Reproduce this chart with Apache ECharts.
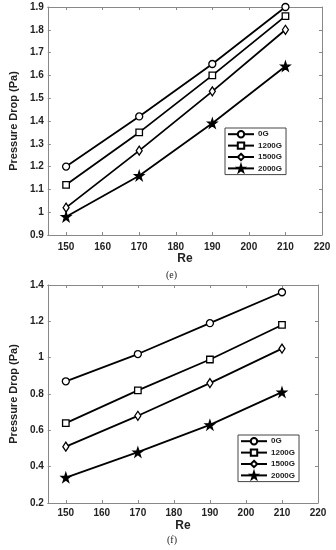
<!DOCTYPE html>
<html>
<head>
<meta charset="utf-8">
<script src="https://cdn.jsdelivr.net/npm/echarts@6/dist/echarts.min.js"></script>
<style>html,body{margin:0;padding:0;background:#fff}#c{width:336px;height:550px}</style>
</head>
<body>
<div id="c"></div>
<script>
// Data
var reValues = [150, 170, 190, 210];
var seriesNames = ['0G', '1200G', '1500G', '2000G'];
var xTickValues = [150, 160, 170, 180, 190, 200, 210, 220];
// Panel (e)
var e0G    = [1.20, 1.42, 1.65, 1.90];
var e1200G = [1.12, 1.35, 1.60, 1.86];
var e1500G = [1.02, 1.27, 1.53, 1.80];
var e2000G = [0.98, 1.16, 1.39, 1.64];
// Panel (f)
var f0G    = [0.87, 1.02, 1.19, 1.36];
var f1200G = [0.64, 0.82, 0.99, 1.18];
var f1500G = [0.51, 0.68, 0.86, 1.05];
var f2000G = [0.34, 0.48, 0.63, 0.81];

var starPath = 'path://M50,0 L61.8,36.2 L100,36.2 L69.1,58.6 L80.9,95 L50,72.6 L19.1,95 L30.9,58.6 L0,36.2 L38.2,36.2 Z';
var markers = [
  {symbol: 'circle', size: 7, fill: '#fff'},
  {symbol: 'rect', size: 6.5, fill: '#fff'},
  {symbol: 'diamond', size: [6, 9], fill: '#fff'},
  {symbol: starPath, size: 9, fill: '#000'}
];

var axisColor = '#888';
var font = 'Liberation Sans, Arial, sans-serif';

function xAxes(gridIndex, nameGap, labelMargin) {
  return [{
    type: 'value', gridIndex: gridIndex, min: 145, max: 220, position: 'bottom',
    name: 'Re', nameLocation: 'middle', nameGap: nameGap,
    nameTextStyle: {fontFamily: font, fontWeight: 'bold', fontSize: 12, color: '#222'},
    axisLine: {show: true, lineStyle: {color: axisColor, width: 1}},
    axisTick: {show: true, inside: true, length: 3, lineStyle: {color: axisColor}, customValues: xTickValues},
    axisLabel: {fontFamily: font, fontWeight: 'bold', fontSize: 10, color: '#222', margin: labelMargin,
      customValues: xTickValues},
    splitLine: {show: false}
  }, {
    type: 'value', gridIndex: gridIndex, min: 145, max: 220, position: 'top',
    axisLine: {show: true, lineStyle: {color: axisColor, width: 1}},
    axisTick: {show: true, inside: true, length: 3, lineStyle: {color: axisColor}, customValues: xTickValues},
    axisLabel: {show: false}, splitLine: {show: false}
  }];
}
function yAxes(gridIndex, min, max, interval, nameGap) {
  return [{
    type: 'value', gridIndex: gridIndex, min: min, max: max, interval: interval, position: 'left',
    name: 'Pressure Drop (Pa)', nameLocation: 'middle', nameGap: nameGap, nameRotate: 90,
    nameTextStyle: {fontFamily: font, fontWeight: 'bold', fontSize: 11, color: '#222'},
    axisLine: {show: true, lineStyle: {color: axisColor, width: 1}},
    axisTick: {show: true, inside: true, length: 3, lineStyle: {color: axisColor}},
    axisLabel: {fontFamily: font, fontWeight: 'bold', fontSize: 10, color: '#222', margin: 4},
    splitLine: {show: false}
  }, {
    type: 'value', gridIndex: gridIndex, min: min, max: max, interval: interval, position: 'right',
    axisLine: {show: true, lineStyle: {color: axisColor, width: 1}},
    axisTick: {show: true, inside: true, length: 3, lineStyle: {color: axisColor}},
    axisLabel: {show: false}, splitLine: {show: false}
  }];
}

function makeSeries(values, i, axisIdx) {
  var m = markers[i];
  return {
    type: 'line', name: seriesNames[i], xAxisIndex: axisIdx, yAxisIndex: axisIdx,
    data: reValues.map(function (x, k) { return [x, values[k]]; }),
    symbol: m.symbol, symbolSize: m.size, showAllSymbol: true,
    lineStyle: {color: '#000', width: 1.8},
    itemStyle: {color: m.fill, borderColor: '#000', borderWidth: 1.3},
    animation: false, z: 3
  };
}

var eSets = [e0G, e1200G, e1500G, e2000G];
var fSets = [f0G, f1200G, f1500G, f2000G];
var series = [];
eSets.forEach(function (v, i) { series.push(makeSeries(v, i, 0)); });
fSets.forEach(function (v, i) { series.push(makeSeries(v, i, 2)); });

function legend(left, top) {
  return {
    data: seriesNames, orient: 'vertical', left: left, top: top,
    backgroundColor: '#fff', borderColor: '#444', borderWidth: 1, borderRadius: 0,
    padding: [2, 4, 2, 2], itemGap: 3, itemWidth: 26, itemHeight: 8,
    textStyle: {fontFamily: font, fontWeight: 'bold', fontSize: 8, color: '#222', padding: [0, 0, 0, -1]},
    selectedMode: false
  };
}

var option = {
  backgroundColor: '#fff',
  animation: false,
  grid: [
    {left: 34, top: 7, width: 288, height: 228, containLabel: false},
    {left: 39, top: 285, width: 279, height: 218, containLabel: false}
  ],
  xAxis: xAxes(0, 17, 7).concat(xAxes(1, 17, 5)),
  yAxis: yAxes(0, 0.9, 1.9, 0.1, 21).concat(yAxes(1, 0.2, 1.4, 0.2, 19)),
  legend: [legend(225, 128), legend(238, 435)],
  series: series,
  graphic: [
    {type: 'text', left: 166, top: 270, style: {text: '(e)', font: '10px "Liberation Serif", serif', fill: '#222'}},
    {type: 'text', left: 167, top: 535, style: {text: '(f)', font: '10px "Liberation Serif", serif', fill: '#222'}}
  ]
};

var chart = echarts.init(document.getElementById('c'), null, {renderer: 'canvas'});
chart.setOption(option);
</script>
</body>
</html>
